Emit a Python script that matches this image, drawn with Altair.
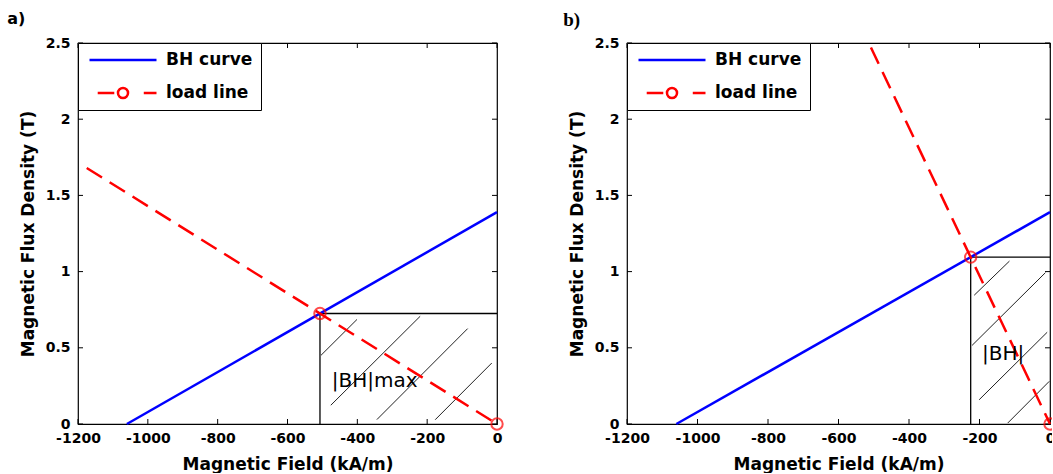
import altair as alt
import pandas as pd

# Axis ticks
H_TICKS = [-1200, -1000, -800, -600, -400, -200, 0]
B_TICKS = [0, 0.5, 1, 1.5, 2, 2.5]

# Demagnetisation (BH) curve of the magnet, shared by both panels
BH_H = [-1060, 0]
BH_B = [0, 1.39]

SERIES = ["BH curve", "load line"]

# Panel a) load line, operating point and hatching of the |BH|max area
LOAD_A_H = [-1175, 0]
LOAD_A_B = [1.68, 0]
OP_A_H = -507
OP_A_B = 0.725
HATCH_A_H1 = [-504, -476, -344, -177]
HATCH_A_B1 = [0.451, 0.123, 0.029, 0.028]
HATCH_A_H2 = [-401, -220, -84, -15]
HATCH_A_B2 = [0.686, 0.707, 0.626, 0.40]
LABEL_A = "|BH|max"
LABEL_A_H = -473
LABEL_A_B = 0.28

# Panel b) steeper load line
LOAD_B_H = [-508, 0]
LOAD_B_B = [2.47, 0]
OP_B_H = -225
OP_B_B = 1.095
HATCH_B_H1 = [-215, -221, -201, -120]
HATCH_B_B1 = [0.845, 0.516, 0.159, 0.006]
HATCH_B_H2 = [-115, -13, -8, -2]
HATCH_B_B2 = [1.069, 0.993, 0.602, 0.28]
LABEL_B = "|BH|"
LABEL_B_H = -193
LABEL_B_B = 0.46

BLUE = "#0000ff"
RED = "#ff0000"
TICK_LEN = 5

# legend symbols: plain line, and dashed line with an open circle
SYM_LINE = "M-1,0L1,0"
SYM_LOAD = ("M-0.755,0L-0.26,0M0.62,0L1,0"
            "M0.15,0A0.15,0.15,0,1,1,-0.15,0A0.15,0.15,0,1,1,0.15,0")


def panel(title, width, height, load_h, load_b, op_h, op_b,
          h1, b1, h2, b2, label, label_h, label_b):
    xs = alt.Scale(domain=[-1200, 0], nice=False, zero=False)
    ys = alt.Scale(domain=[0, 2.5], nice=False, zero=False)
    xax = alt.Axis(values=H_TICKS, labelExpr="datum.value + ''",
                   title="Magnetic Field (kA/m)", labelPadding=7, titlePadding=11)
    yax = alt.Axis(values=B_TICKS, labelExpr="datum.value + ''",
                   title="Magnetic Flux Density (T)")
    X = alt.X("H:Q", scale=xs, axis=xax)
    Y = alt.Y("B:Q", scale=ys, axis=yax)

    bh = alt.Chart(pd.DataFrame({"H": BH_H, "B": BH_B})).mark_line(
        color=BLUE, strokeWidth=2.5).encode(x=X, y=Y)
    load = alt.Chart(pd.DataFrame({"H": load_h, "B": load_b})).mark_line(
        color=RED, strokeWidth=2.5, strokeDash=[18, 9]).encode(x="H:Q", y="B:Q")

    op = pd.DataFrame({"H": [op_h], "B": [op_b], "H0": [0], "B0": [0]})
    vline = alt.Chart(op).mark_rule(color="black", strokeWidth=1.3).encode(
        x="H:Q", y="B0:Q", y2="B")
    hline = alt.Chart(op).mark_rule(color="black", strokeWidth=1.3).encode(
        x="H:Q", x2="H0", y="B:Q")

    hatch = alt.Chart(pd.DataFrame({"h1": h1, "b1": b1, "h2": h2, "b2": b2})).mark_rule(
        color="#222222", strokeWidth=1).encode(x="h1:Q", x2="h2", y="b1:Q", y2="b2")

    markers = alt.Chart(pd.DataFrame({"H": [op_h, 0], "B": [op_b, 0]})).mark_point(
        shape="circle", filled=False, color=RED, size=130, strokeWidth=2
    ).encode(x="H:Q", y="B:Q")

    text = alt.Chart(pd.DataFrame({"H": [label_h], "B": [label_b], "t": [label]})).mark_text(
        align="left", baseline="middle", font="DejaVu Sans", fontSize=20, color="black"
    ).encode(x="H:Q", y="B:Q", text="t:N")

    # inward tick marks on all four sides
    xt = pd.DataFrame({"H": H_TICKS})
    yt = pd.DataFrame({"B": B_TICKS})
    tick_kw = dict(color="black", strokeWidth=1)
    t_bottom = alt.Chart(xt).mark_rule(**tick_kw).encode(
        x="H:Q", y=alt.value(height), y2=alt.value(height - TICK_LEN))
    t_top = alt.Chart(xt).mark_rule(**tick_kw).encode(
        x="H:Q", y=alt.value(0), y2=alt.value(TICK_LEN))
    t_left = alt.Chart(yt).mark_rule(**tick_kw).encode(
        y="B:Q", x=alt.value(0), x2=alt.value(TICK_LEN))
    t_right = alt.Chart(yt).mark_rule(**tick_kw).encode(
        y="B:Q", x=alt.value(width), x2=alt.value(width - TICK_LEN))

    leg = alt.Legend(title=None, orient="top-left", offset=0, padding=8,
                     strokeColor="black", fillColor="white",
                     cornerRadius=0, symbolSize=4489, symbolStrokeWidth=2.5,
                     symbolOpacity=1, symbolFillColor="transparent",
                     clipHeight=18, rowPadding=15, symbolOffset=2, labelOffset=8,
                     labelFont="DejaVu Sans", labelFontSize=17,
                     labelFontWeight="bold", labelColor="black")
    key = alt.Chart(pd.DataFrame({"series": SERIES, "H": [BH_H[0], load_h[0]],
                                  "B": [BH_B[0], load_b[0]]})).mark_point(
        opacity=0, filled=False
    ).encode(
        x="H:Q", y="B:Q",
        color=alt.Color("series:N", scale=alt.Scale(domain=SERIES, range=[BLUE, RED]),
                        legend=leg),
        shape=alt.Shape("series:N", scale=alt.Scale(domain=SERIES, range=[SYM_LINE, SYM_LOAD]),
                        legend=leg),
    )

    return alt.layer(
        t_bottom, t_top, t_left, t_right, hatch, vline, hline, bh, load, markers, text, key
    ).properties(width=width, height=height, title=title)


title_a = alt.TitleParams("a)", anchor="start", frame="bounds", font="DejaVu Sans",
                          fontSize=16, fontWeight="bold", color="black", offset=9, dx=-12)
title_b = alt.TitleParams("b)", anchor="start", frame="bounds", font="Liberation Serif",
                          fontSize=19, fontWeight="bold", color="black", offset=6, dx=-5)

a = panel(title_a, 419, 381, LOAD_A_H, LOAD_A_B, OP_A_H, OP_A_B,
          HATCH_A_H1, HATCH_A_B1, HATCH_A_H2, HATCH_A_B2, LABEL_A, LABEL_A_H, LABEL_A_B)
b = panel(title_b, 423, 381, LOAD_B_H, LOAD_B_B, OP_B_H, OP_B_B,
          HATCH_B_H1, HATCH_B_B1, HATCH_B_H2, HATCH_B_B2, LABEL_B, LABEL_B_H, LABEL_B_B)

# the right-hand panel runs to the page edge, so its last tick label is cut
chart = alt.hconcat(a, b, spacing=54).resolve_scale(
    x="independent", y="independent", color="independent", shape="independent"
).resolve_legend(color="independent", shape="independent").properties(
    padding={"left": 6, "top": 10, "right": -9, "bottom": 0}
).configure_view(stroke="black", strokeWidth=1.2).configure_axis(
    labelFont="DejaVu Sans", labelFontWeight="bold", labelFontSize=14, labelColor="black",
    titleFont="DejaVu Sans", titleFontWeight="bold", titleFontSize=17, titleColor="black",
    ticks=False, domain=False, grid=False, labelPadding=8, titlePadding=8,
    labelFlush=False, labelOverlap=False
)

chart.save("out.html", embed_options={"renderer": "svg", "actions": False})
